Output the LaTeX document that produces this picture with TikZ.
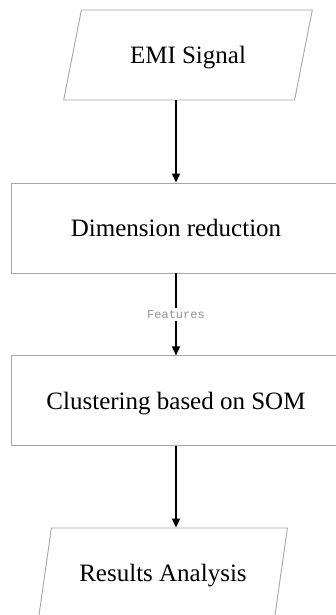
\documentclass[tikz,border=0pt]{standalone}
\usepackage{fontspec}
\setmainfont{Liberation Serif}
\setmonofont{Liberation Mono}
\usepackage{xcolor}
\usepackage{tikz}
\usetikzlibrary{positioning,shapes.geometric,arrows.meta}

\begin{document}
\begin{tikzpicture}[
    io/.style={trapezium, trapezium left angle=61, trapezium right angle=119, trapezium stretches=true, draw=gray!70, line width=0.9pt, fill=white, minimum width=249pt, minimum height=90pt, inner sep=0pt, text depth=0pt, font=\fontsize{25}{30}\selectfont},
    proc/.style={rectangle, draw=gray!70, line width=0.9pt, fill=white, minimum width=330pt, minimum height=90pt, inner sep=0pt, text depth=0pt, font=\fontsize{25}{30}\selectfont},
    flow/.style={draw=black, line width=1.6pt, -{Triangle[length=9pt,width=8pt]}},
    tag/.style={fill=white, inner sep=2pt, font=\ttfamily\fontsize{12}{14}\selectfont, text=gray!85},
]
\clip (0,0) rectangle (336pt,-615pt);
\useasboundingbox (0,0) rectangle (336pt,-615pt);

% Input
\node[io] (emi) at (188pt,-55pt) {EMI Signal};

% Processing
\node[proc] (dim) at (176pt,-228pt) {Dimension reduction};
\node[proc, below=82pt of dim] (som) {Clustering based on SOM};

% Output
\node[io] (res) at (163pt,-573pt) {Results Analysis};

% Arrows
\draw[flow] (emi.south -| dim.north) -- (dim.north);
\draw[flow] (dim.south) -- node[tag] (feat) {Features} (som.north);
\draw[flow] (som.south) -- (res.north -| som.south);

\end{tikzpicture}
\end{document}
